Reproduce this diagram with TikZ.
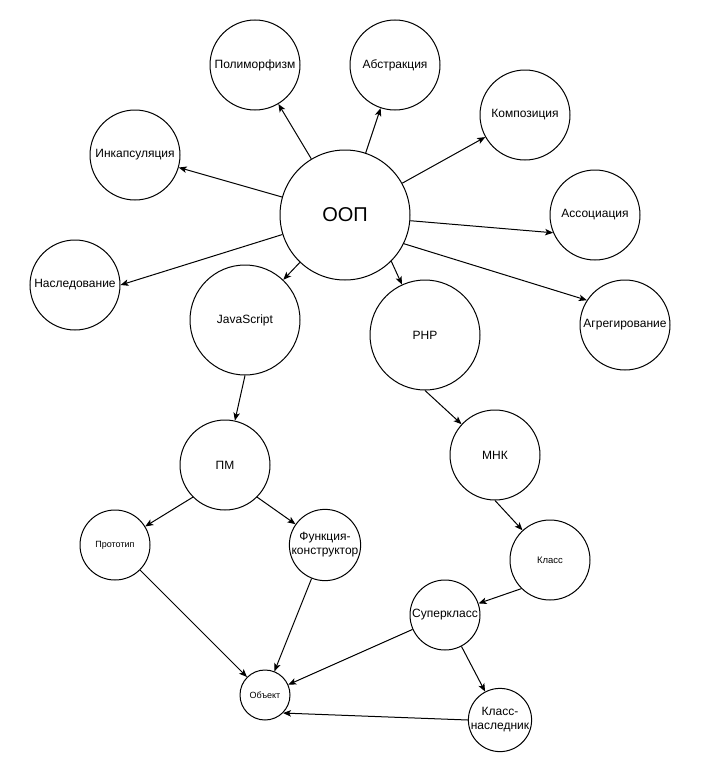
\documentclass[tikz,border=0pt]{standalone}
\usepackage{fontspec}
\setmainfont{Liberation Sans}
\usetikzlibrary{arrows.meta}
\begin{document}
\begin{tikzpicture}[x=1pt,y=-1pt,
  bub/.style={draw, circle, line width=1pt, inner sep=0pt, align=center,
              font=\fontsize{12}{14}\selectfont},
  small/.style={font=\fontsize{9}{11}\selectfont},
  arr/.style={-{Stealth[length=8pt,width=6.5pt,inset=2pt]}, line width=1pt}]
\path[use as bounding box, fill=white] (0,0) rectangle (701,771);

% nodes
\node[bub, minimum size=130pt, font=\fontsize{20}{24}\selectfont] (oop) at (345,215) {ООП};
\node[bub, minimum size=90pt] (poly) at (255,65) {Полиморфизм};
\node[bub, minimum size=90pt] (abst) at (395,65) {Абстракция};
\node[bub, minimum size=90pt] (inc) at (135,155) {Инкапсуляция};
\node[bub, minimum size=90pt] (komp) at (525,115) {Композиция};
\node[bub, minimum size=90pt] (assoc) at (595,215) {Ассоциация};
\node[bub, minimum size=90pt] (nasl) at (75,285) {Наследование};
\node[bub, minimum size=90pt] (agr) at (625,325) {Агрегирование};
\node[bub, minimum size=110pt] (js) at (245,320) {JavaScript};
\node[bub, minimum size=110pt] (php) at (425,335) {PHP};
\node[bub, minimum size=90pt] (pm) at (225,465) {ПМ};
\node[bub, minimum size=90pt] (mnk) at (495,455) {МНК};
\node[bub, minimum size=70pt, small] (prot) at (115,545) {Прототип};
\node[bub, minimum size=70pt] (func) at (325,545) {Функция-\\конструктор};
\node[bub, minimum size=80pt, font=\fontsize{9.5}{11}\selectfont] (klass) at (550,560) {Класс};
\node[bub, minimum size=70pt] (super) at (445,615) {Суперкласс};
\node[bub, minimum size=50pt, small] (obj) at (265,695) {Объект};
\node[bub, minimum size=60pt] (kn) at (500,720) {Класс-\\наследник};

% connectors
\draw[arr] (oop) -- (poly);
\draw[arr] (oop) -- (abst);
\draw[arr] (oop) -- (inc);
\draw[arr] (oop) -- (komp);
\draw[arr] (oop.-5.3) -- (assoc.203.5);
\draw[arr] (oop) -- (nasl.east);
\draw[arr] (oop.-26.8) -- (agr.147.6);
\draw[arr] (oop) -- (js);
\draw[arr] (oop.-45) -- (php);
\draw[arr] (js.south) -- (pm);
\draw[arr] (php.south) -- (mnk);
\draw[arr] (pm.-135) -- (prot);
\draw[arr] (pm.-45) -- (func);
\draw[arr] (mnk.south) -- (klass);
\draw[arr] (klass.-135) -- (super);
\draw[arr] (prot) -- (obj);
\draw[arr] (func) -- (obj);
\draw[arr] (super) -- (obj);
\draw[arr] (super) -- (kn);
\draw[arr] (kn.west) -- (obj.-45);
\end{tikzpicture}
\end{document}
